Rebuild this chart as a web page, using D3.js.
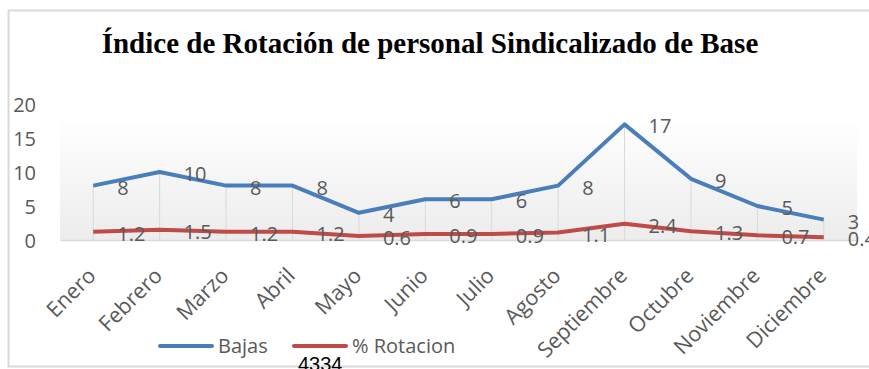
<!DOCTYPE html>
<html>
<head>
<meta charset="utf-8">
<script src="https://cdn.jsdelivr.net/npm/d3@7"></script>
<style>
  html, body { margin: 0; padding: 0; background: #fff; }
  svg { display: block; }
</style>
</head>
<body>
<svg id="chart" width="869" height="369"></svg>
<script>
// Months on the x axis
const months = ["Enero", "Febrero", "Marzo", "Abril", "Mayo", "Junio", "Julio",
                "Agosto", "Septiembre", "Octubre", "Noviembre", "Diciembre"];
// Monthly separations (Bajas)
const bajas = [8, 10, 8, 8, 4, 6, 6, 8, 17, 9, 5, 3];
// Monthly turnover rate (% Rotacion)
const rotacion = [1.2, 1.5, 1.2, 1.2, 0.6, 0.9, 0.9, 1.1, 2.4, 1.3, 0.7, 0.4];
// Y axis ticks
const yTicks = [0, 5, 10, 15, 20];
const titleText = "Índice de Rotación de personal Sindicalizado de Base";
const seriesNames = ["Bajas", "% Rotacion"];
const footNote = "4334";

const svg = d3.select("#chart");
const labelFont = "'Open Sans', 'Noto Sans', sans-serif";
const blue = "#4a7ebb";
const red = "#be4b48";
const grey = "#595959";
const fs = 20;

// Plot geometry
const plot = { left: 60, right: 857, top: 104, bottom: 240 };

const x = d3.scaleBand().domain(months).range([plot.left, plot.right]);
const y = d3.scaleLinear().domain([0, 20]).range([plot.bottom, plot.top]);
const cx = m => x(m) + x.bandwidth() / 2;

// Chart frame
svg.append("path")
  .attr("d", "M870,10.5 H8.5 V366.5 H870")
  .attr("fill", "none").attr("stroke", "#d9d9d9").attr("stroke-width", 2);

// Plot area background gradient
const defs = svg.append("defs");
const grad = defs.append("linearGradient").attr("id", "bg")
  .attr("x1", 0).attr("y1", 0).attr("x2", 0).attr("y2", 1);
grad.append("stop").attr("offset", "0%").attr("stop-color", "#fefefe");
grad.append("stop").attr("offset", "100%").attr("stop-color", "#ececec");
svg.append("rect")
  .attr("x", plot.left).attr("y", 122)
  .attr("width", plot.right - plot.left).attr("height", plot.bottom - 122)
  .attr("fill", "url(#bg)");

// Title
svg.append("text")
  .attr("x", 430).attr("y", 53)
  .attr("text-anchor", "middle")
  .attr("font-family", "'Liberation Serif', 'Times New Roman', serif")
  .attr("font-weight", "bold")
  .attr("font-size", 29)
  .attr("fill", "#000")
  .text(titleText);

// Y axis labels
const yAxis = d3.axisLeft(y).tickValues(yTicks).tickSize(0).tickPadding(0);
const yg = svg.append("g").attr("transform", `translate(36,0)`).call(yAxis);
yg.select(".domain").remove();
yg.selectAll("text")
  .attr("font-family", labelFont).attr("font-size", fs).attr("fill", grey)
  .attr("dy", "0.35em");

// Drop lines from the higher series down to the baseline
svg.append("g").selectAll("line")
  .data(months)
  .join("line")
  .attr("x1", d => cx(d)).attr("x2", d => cx(d))
  .attr("y1", (d, i) => y(bajas[i])).attr("y2", plot.bottom)
  .attr("stroke", "#d9d9d9").attr("stroke-width", 1);

// X axis baseline and rotated month labels
const xAxis = d3.axisBottom(x).tickSize(0).tickPadding(0);
const xg = svg.append("g").attr("transform", `translate(0,${plot.bottom})`).call(xAxis);
xg.select(".domain").attr("stroke", "#d9d9d9").attr("stroke-width", 1.5);
xg.selectAll("text")
  .attr("font-family", labelFont).attr("font-size", 21.5).attr("fill", grey)
  .attr("text-anchor", "end")
  .attr("dy", 0)
  .attr("transform", "translate(4,37) rotate(-45)");

// Series lines
const line = d3.line().x((d, i) => cx(months[i])).y(d => y(d));
svg.append("path").datum(rotacion)
  .attr("d", line).attr("fill", "none")
  .attr("stroke", red).attr("stroke-width", 4).attr("stroke-linejoin", "round");
svg.append("path").datum(bajas)
  .attr("d", line).attr("fill", "none")
  .attr("stroke", blue).attr("stroke-width", 4).attr("stroke-linejoin", "round");

// Data labels to the right of each point
function addLabels(values) {
  svg.append("g").selectAll("text")
    .data(values)
    .join("text")
    .attr("x", (d, i) => cx(months[i]) + 24)
    .attr("y", d => y(d) + 2)
    .attr("dy", "0.35em")
    .attr("font-family", labelFont).attr("font-size", fs).attr("fill", grey)
    .text(d => d);
}
addLabels(bajas);
addLabels(rotacion);

// Legend
const legend = svg.append("g");
const legendItems = [
  { name: seriesNames[0], color: blue, x0: 160 },
  { name: seriesNames[1], color: red, x0: 294 }
];
legendItems.forEach(it => {
  legend.append("line")
    .attr("x1", it.x0).attr("x2", it.x0 + 52)
    .attr("y1", 346).attr("y2", 346)
    .attr("stroke", it.color).attr("stroke-width", 4).attr("stroke-linecap", "round");
  legend.append("text")
    .attr("x", it.x0 + 58).attr("y", 346).attr("dy", "0.35em")
    .attr("font-family", labelFont).attr("font-size", fs).attr("fill", grey)
    .text(it.name);
});

// Footnote figure below the legend
svg.append("text")
  .attr("x", 298).attr("y", 371)
  .attr("font-family", "'Liberation Sans', Arial, sans-serif")
  .attr("font-size", 20).attr("fill", "#000")
  .text(footNote);
</script>
</body>
</html>
